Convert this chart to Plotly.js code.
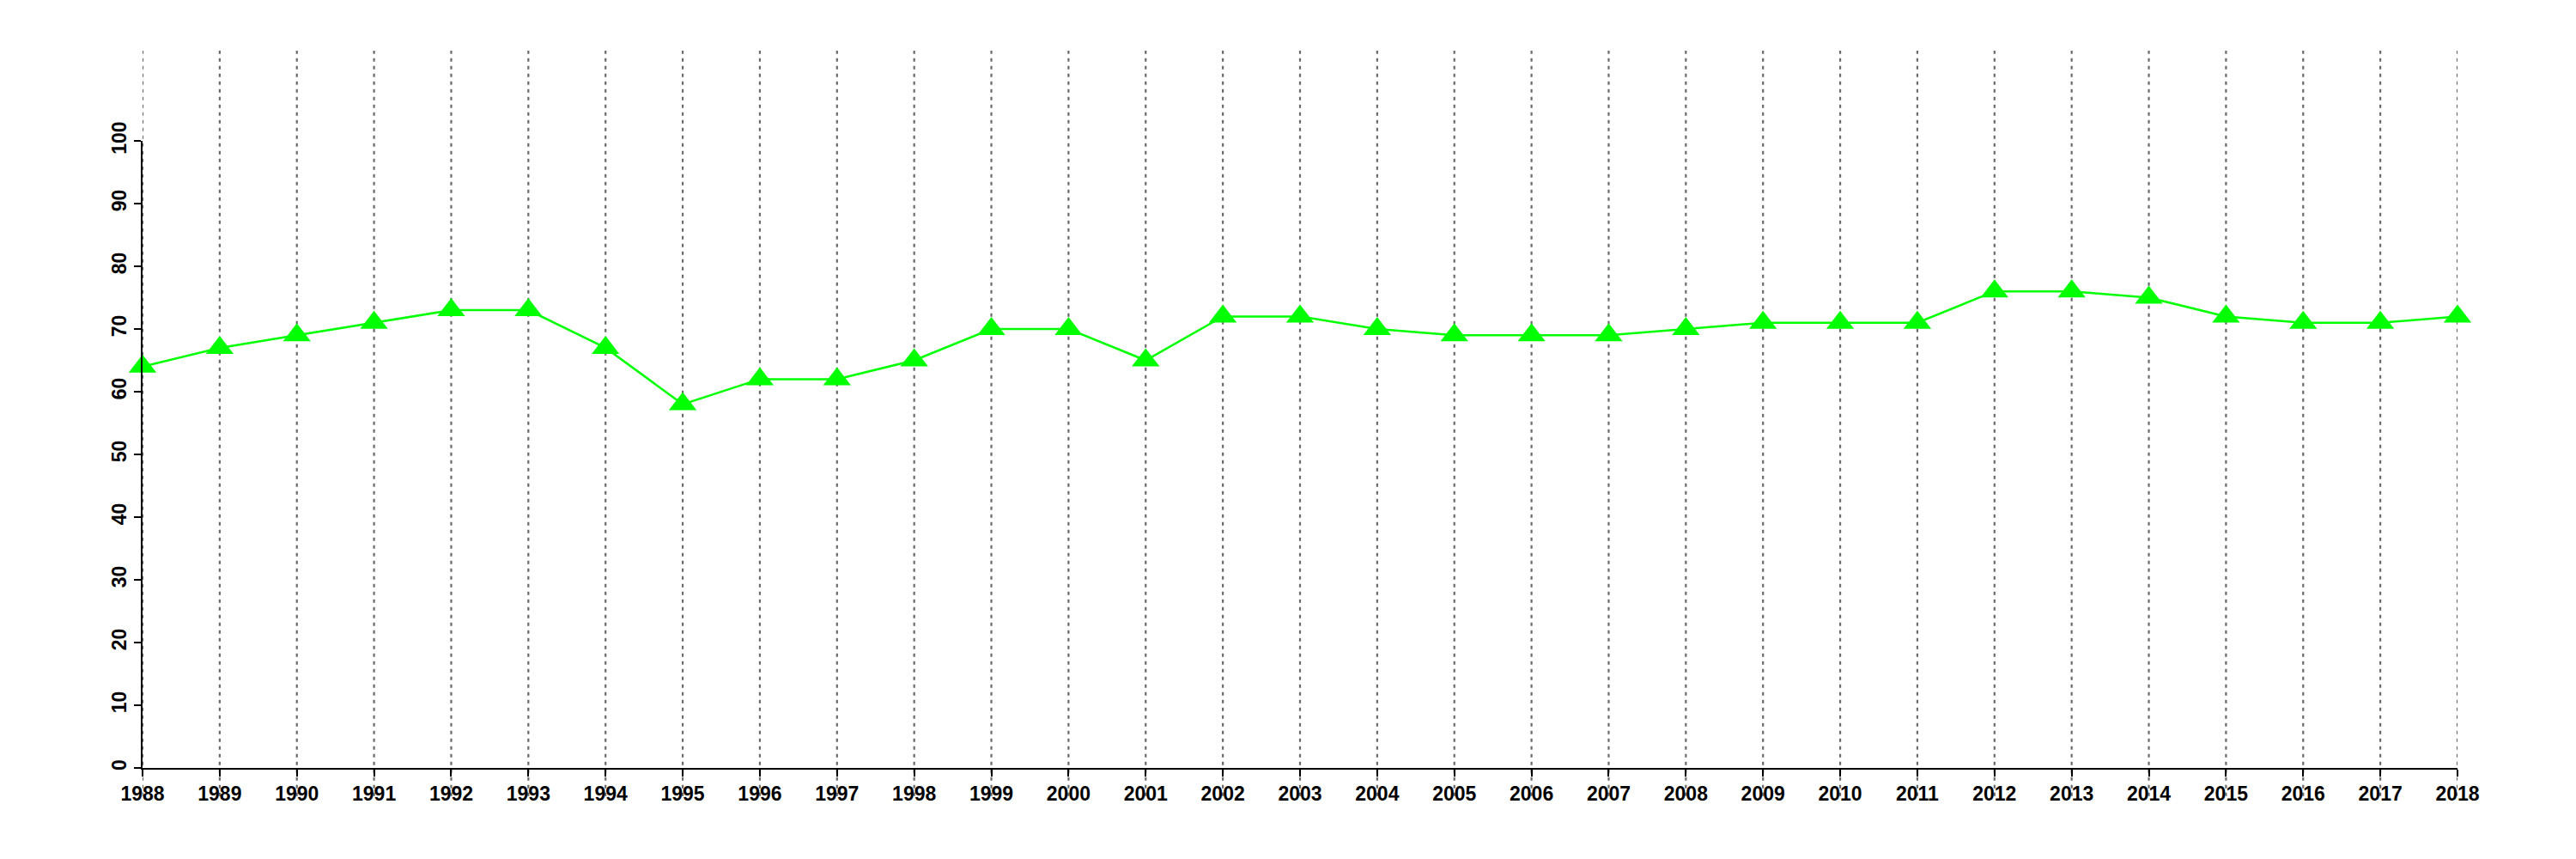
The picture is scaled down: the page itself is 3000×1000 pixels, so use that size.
<!DOCTYPE html>
<html>
<head>
<meta charset="utf-8">
<script src="https://cdn.plot.ly/plotly-3.0.1.min.js"></script>
<style>html,body{margin:0;padding:0;background:#fff;}#chart{width:3000px;height:1000px;}</style>
</head>
<body>
<div id="chart"></div>
<script>
const years = [1988,1989,1990,1991,1992,1993,1994,1995,1996,1997,1998,1999,2000,2001,2002,2003,2004,2005,2006,2007,2008,2009,2010,2011,2012,2013,2014,2015,2016,2017,2018];
const values = [64,67,69,71,73,73,67,58,62,62,65,70,70,65,72,72,70,69,69,69,70,71,71,71,76,76,75,72,71,71,72];
const yTicks = [0,10,20,30,40,50,60,70,80,90,100];

const fontFamily = 'Liberation Sans, Arial, sans-serif';

const shapes = years.map(y => ({
  type: 'line', xref: 'x', yref: 'paper',
  x0: y, x1: y, y0: -0.045, y1: 1.144,
  line: {color: '#6a6a6a', width: 2.2, dash: '4px,5px'},
  layer: 'below'
}));

const trace = {
  x: years, y: values, type: 'scatter', mode: 'lines+markers',
  line: {color: '#00ff00', width: 2.5},
  marker: {symbol: 'triangle-up', size: 28, color: '#00ff00'},
  cliponaxis: false, showlegend: false
};

const tickfont = {family: fontFamily, size: 23, color: '#000', weight: 'bold'};

const layout = {
  width: 3000, height: 1000,
  margin: {l: 166, r: 138, t: 164, b: 106},
  paper_bgcolor: '#fff', plot_bgcolor: '#fff',
  font: {family: fontFamily, size: 23, color: '#000'},
  showlegend: false,
  xaxis: {
    range: [years[0], years[years.length - 1]], tickmode: 'array', tickvals: years, ticktext: years.map(String),
    showgrid: false, zeroline: false, showline: true, linecolor: '#000', linewidth: 2,
    ticks: 'outside', ticklen: 8, tickwidth: 2, tickcolor: '#000',
    tickfont: tickfont, tickangle: 0
  },
  yaxis: {
    range: [0, 100], tickmode: 'array', tickvals: yTicks, ticktext: yTicks.map(String),
    showgrid: false, zeroline: false, showline: true, linecolor: '#000', linewidth: 2,
    ticks: 'outside', ticklen: 8, tickwidth: 2, tickcolor: '#000',
    tickfont: tickfont, tickangle: -90
  },
  shapes: shapes
};

Plotly.newPlot('chart', [trace], layout, {staticPlot: true, displayModeBar: false});
</script>
</body>
</html>
